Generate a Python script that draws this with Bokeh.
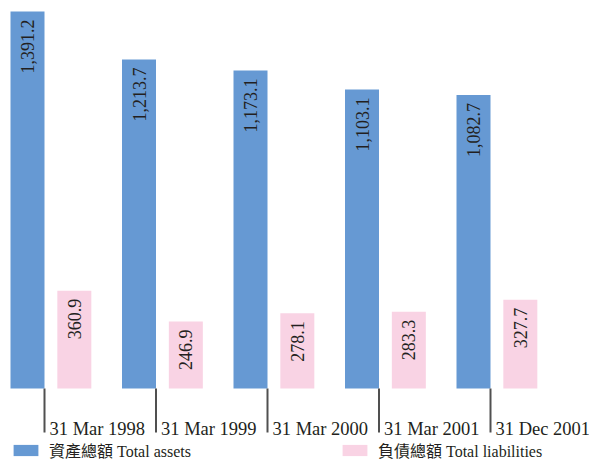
from bokeh.plotting import figure
from bokeh.models import ColumnDataSource, Legend, LegendItem, Range1d
from bokeh.core.properties import value
from bokeh.embed import file_html
from bokeh.resources import INLINE

# ---- data ----
dates = ["31 Mar 1998", "31 Mar 1999", "31 Mar 2000", "31 Mar 2001", "31 Dec 2001"]
total_assets = [1391.2, 1213.7, 1173.1, 1103.1, 1082.7]
total_liabilities = [360.9, 246.9, 278.1, 283.3, 327.7]
series_names = ["資產總額 Total assets", "負債總額 Total liabilities"]

# ---- layout constants (pixels) ----
W, H = 589, 466
S = 111.5      # px per category group
K = 0.2710     # px per data unit
X0 = 27        # px position of first blue bar centre
BASE = 388     # px position of zero line from top
OFF = 0.21     # half distance between paired bars (group units)
BW = 34 / S    # bar width (group units)

BLUE = "#6699d3"
PINK = "#f9d3e4"
TEXT = "#231f20"
SERIF = "'Liberation Serif', 'Noto Sans CJK TC'"

idx = list(range(len(dates)))
src = ColumnDataSource(dict(
    xb=[i - OFF for i in idx],
    xp=[i + OFF for i in idx],
    tick=[i - OFF + BW / 2 for i in idx],
    labx=[i - OFF + BW / 2 + 5 / S for i in idx],
    assets=total_assets,
    liab=total_liabilities,
    lab_a=[f"{v:,.1f}" for v in total_assets],
    lab_l=[f"{v:,.1f}" for v in total_liabilities],
    dates=dates,
))

xs = -OFF - X0 / S
p = figure(width=W, height=H, output_backend="svg", toolbar_location=None,
           x_range=Range1d(xs, xs + W / S),
           y_range=Range1d((BASE - H) / K, BASE / K),
           x_axis_location=None, y_axis_location=None,
           min_border=0, outline_line_color=None)
p.xgrid.grid_line_color = None
p.ygrid.grid_line_color = None

rb = p.vbar(x="xb", top="assets", bottom=0, width=BW, source=src,
            fill_color=BLUE, line_color=None)
rp = p.vbar(x="xp", top="liab", bottom=0, width=BW, source=src,
            fill_color=PINK, line_color=None)

for xcol, ycol, lcol in (("xb", "assets", "lab_a"), ("xp", "liab", "lab_l")):
    p.text(x=xcol, y=ycol, text=lcol, source=src, angle=1.5707963,
           y_offset=8, text_align="right", text_baseline="middle",
           text_font=value("Liberation Serif"), text_font_size="18px",
           text_color=TEXT)

# category separators and labels
p.segment(x0="tick", y0=0, x1="tick", y1=-44 / K, source=src,
          line_color="#505050", line_width=2)
p.text(x="labx", y=-40 / K, text="dates", source=src,
       text_align="left", text_baseline="alphabetic",
       text_font=value("Liberation Serif"), text_font_size="18.5px",
       text_color=TEXT)

# legends
for r, name, loc in ((rb, series_names[0], (10, 4)), (rp, series_names[1], (339, 4))):
    leg = Legend(items=[LegendItem(label=name, renderers=[r])], location=loc,
                 orientation="horizontal", padding=0, margin=0, spacing=0,
                 border_line_color=None, background_fill_alpha=0,
                 glyph_width=31, glyph_height=14, label_standoff=8,
                 label_text_font=SERIF, label_text_font_size="16px",
                 label_text_color=TEXT)
    p.add_layout(leg, "center")

open("out.html", "w").write(file_html(p, INLINE))
